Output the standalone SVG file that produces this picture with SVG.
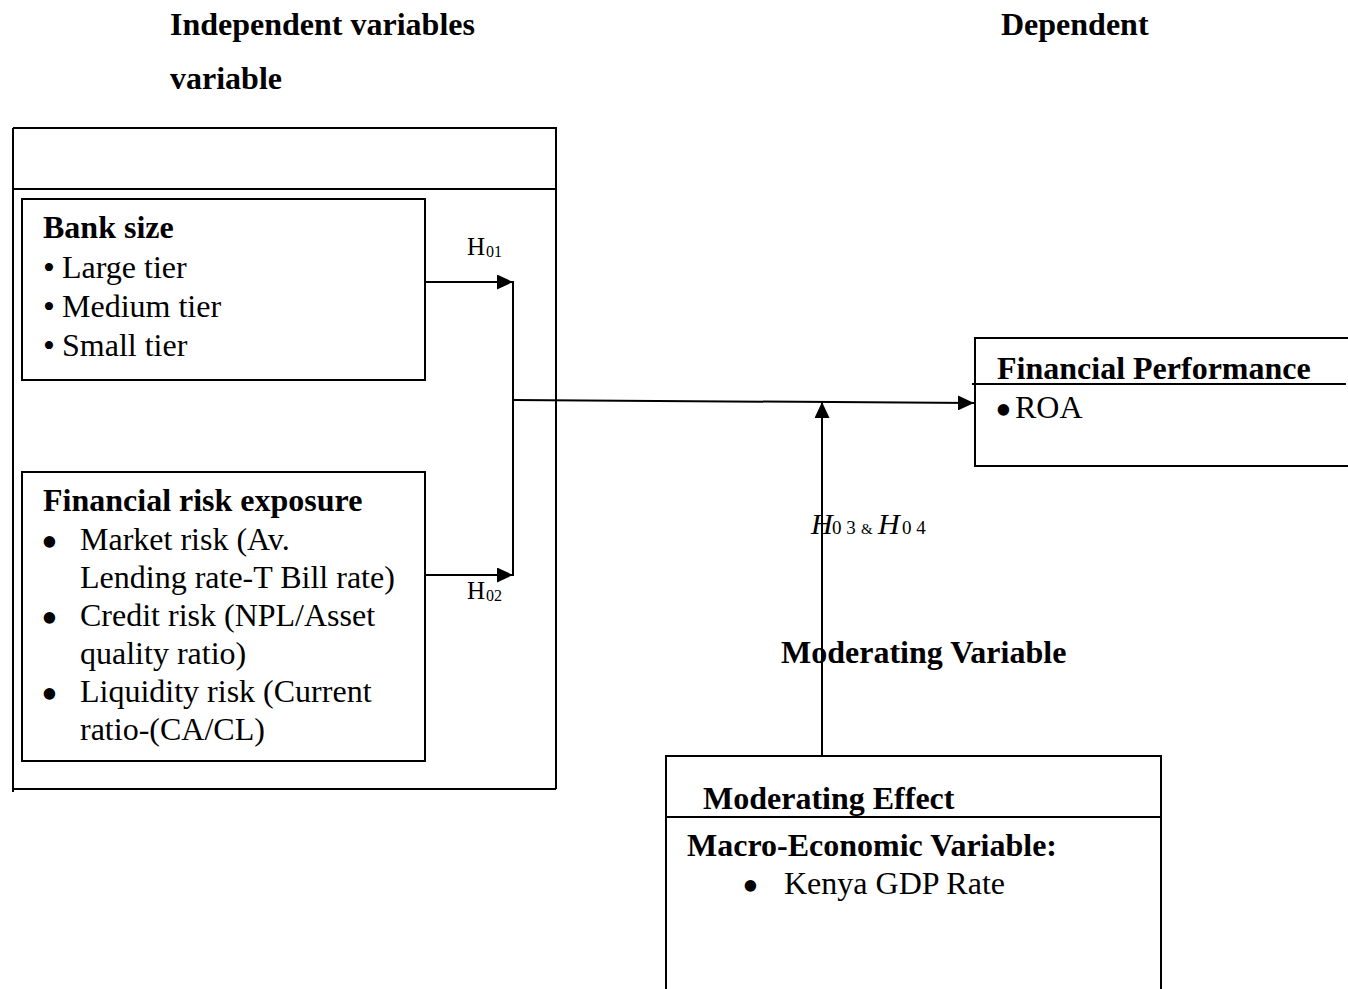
<svg xmlns="http://www.w3.org/2000/svg" width="1348" height="989" viewBox="0 0 1348 989">
<defs>
<style>
text{font-family:"Liberation Serif","Times New Roman",serif;fill:#000}
.t{font-size:32px}
.b{font-size:32px;font-weight:bold}
.h{font-size:25px}
.s{font-size:16px}
.bu{font-size:48px}
.bs{font-size:34px}
.box{fill:none;stroke:#000;stroke-width:2}
.ln{fill:none;stroke:#000;stroke-width:2}
</style>
<marker id="ah" markerWidth="16" markerHeight="15" refX="16" refY="7.5" orient="auto" markerUnits="userSpaceOnUse">
<path d="M0,0 L16,7.5 L0,15 Z" fill="#000"/>
</marker>
</defs>
<rect width="1348" height="989" fill="#fff"/>

<g id="headings">
<text class="b" x="170" y="35">Independent variables</text>
<text class="b" x="170" y="89">variable</text>
<text class="b" x="1001" y="35">Dependent</text>
</g>

<g id="independent-frame">
<path class="box" d="M13,128 H556 V789 M13,128 V792 M13,189 H556 M13,789 H556"/>
</g>

<g id="bank-size">
<rect class="box" x="22" y="199" width="403" height="181"/>
<text class="b" x="43" y="238">Bank size</text>
<text class="bs" x="43" y="279">•</text><text class="t" x="62" y="278">Large tier</text>
<text class="bs" x="43" y="318">•</text><text class="t" x="62" y="317">Medium tier</text>
<text class="bs" x="43" y="357">•</text><text class="t" x="62" y="356">Small tier</text>
</g>

<g id="financial-risk">
<rect class="box" x="22" y="472" width="403" height="289"/>
<text class="b" x="43" y="511">Financial risk exposure</text>
<text class="bu" x="41" y="558">•</text><text class="t" x="80" y="550">Market risk (Av.</text>
<text class="t" x="80" y="588">Lending rate-T Bill rate)</text>
<text class="bu" x="41" y="634">•</text><text class="t" x="80" y="626">Credit risk (NPL/Asset</text>
<text class="t" x="80" y="664">quality ratio)</text>
<text class="bu" x="41" y="710">•</text><text class="t" x="80" y="702">Liquidity risk (Current</text>
<text class="t" x="80" y="740">ratio-(CA/CL)</text>
</g>

<g id="financial-performance">
<path class="box" d="M1348,338 H975 V466 H1348 M972,384 H1346"/>
<text class="b" x="997" y="379">Financial Performance</text>
<text class="bu" x="995" y="426">•</text><text class="t" x="1015" y="418">ROA</text>
</g>

<g id="moderating">
<path class="box" d="M666,990 V756 H1161 V990 M666,817 H1161"/>
<text class="b" x="703" y="809">Moderating Effect</text>
<text class="b" x="687" y="856">Macro-Economic Variable:</text>
<text class="bu" x="742" y="902">•</text><text class="t" x="784" y="894">Kenya GDP Rate</text>
</g>

<g id="labels">
<text class="h" x="467" y="255">H</text><text class="s" x="486" y="257">01</text>
<text class="h" x="467" y="599">H</text><text class="s" x="486" y="601">02</text>
<text style="font-size:30px;font-style:italic" x="811" y="534">H</text>
<text style="font-size:19px" x="832" y="534">0 3</text>
<text style="font-size:15px" x="861" y="534">&amp;</text>
<text style="font-size:30px;font-style:italic" x="878" y="534">H</text>
<text style="font-size:19px" x="902" y="534">0 4</text>
<text class="b" x="781" y="663">Moderating Variable</text>
</g>

<g id="connectors">
<line class="ln" x1="425" y1="282" x2="513" y2="282" marker-end="url(#ah)"/>
<line class="ln" x1="425" y1="575" x2="513" y2="575" marker-end="url(#ah)"/>
<line class="ln" x1="513" y1="281" x2="513" y2="576"/>
<line class="ln" x1="513" y1="400" x2="974" y2="403" marker-end="url(#ah)"/>
<line class="ln" x1="822" y1="756" x2="822" y2="402" marker-end="url(#ah)"/>
</g>
</svg>
